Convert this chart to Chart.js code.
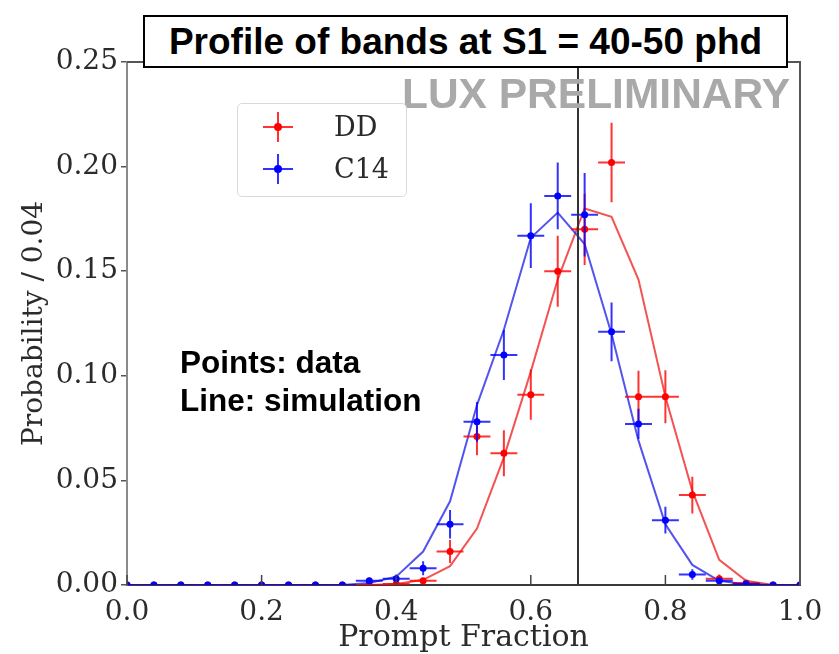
<!DOCTYPE html>
<html>
<head>
<meta charset="utf-8">
<script src="https://cdn.jsdelivr.net/npm/chart.js@4.4.1/dist/chart.umd.min.js"></script>
<style>
  html, body { margin: 0; padding: 0; background: #fff; }
  #wrap { position: relative; width: 839px; height: 654px; overflow: hidden; }
  #c { position: absolute; left: 0; top: 0; }
  .title-box { position: absolute; left: 143px; top: 15px; width: 641px; height: 49px; border: 2px solid #000; background: #fff;
    display: flex; align-items: center; justify-content: center; font: bold 37px "Liberation Sans", Arial, sans-serif; color: #000; z-index: 3; white-space: nowrap; }
  .watermark { position: absolute; right: 49px; top: 73px; font: bold 42.5px/42.5px "Liberation Sans", Arial, sans-serif; color: #a9a9a9; z-index: 2; white-space: nowrap; }
  .note { position: absolute; left: 180px; top: 343px; font: bold 31.5px/38px "Liberation Sans", Arial, sans-serif; color: #000; z-index: 2; white-space: nowrap; }
  .legend { position: absolute; left: 237px; top: 103px; width: 168px; height: 92px; border: 1px solid #d9d9d9; border-radius: 5px;
    background: rgba(255,255,255,0.85); z-index: 2; }
  .leg-item { position: absolute; left: 0; width: 168px; height: 40px; }
  .leg-h { position: absolute; left: 25px; top: 19px; width: 30px; height: 2px; }
  .leg-v { position: absolute; left: 39px; top: 5px; width: 2px; height: 30px; }
  .leg-dot { position: absolute; left: 36px; top: 16px; width: 8px; height: 8px; border-radius: 50%; }
  .leg-text { position: absolute; left: 96px; top: 0; height: 40px; font: 27px/40px "DejaVu Serif", serif; color: #2a2a2a; }
</style>
</head>
<body>
<div id="wrap">
  <canvas id="c" width="839" height="654"></canvas>
  <div class="title-box" id="titleBox"></div>
  <div class="watermark" id="watermark"></div>
  <div class="note" id="note"></div>
  <div class="legend" id="legend"></div>
</div>
<script>
// ---- data ----
const binCenters = [0.00, 0.04, 0.08, 0.12, 0.16, 0.20, 0.24, 0.28, 0.32, 0.36, 0.40, 0.44, 0.48,
                    0.52, 0.56, 0.60, 0.64, 0.68, 0.72, 0.76, 0.80, 0.84, 0.88, 0.92, 0.96, 1.00];
const ddData   = [0, 0, 0, 0, 0, 0, 0, 0, 0, 0, 0.0005, 0.002, 0.016,
                  0.071, 0.063, 0.091, 0.150, 0.170, 0.202, 0.090, 0.090, 0.043, 0.003, 0.001, 0, 0];
const ddErr    = [0, 0, 0, 0, 0, 0, 0, 0, 0, 0, 0.0005, 0.001, 0.0055,
                  0.009, 0.011, 0.012, 0.017, 0.017, 0.019, 0.0124, 0.0127, 0.0088, 0.002, 0.001, 0, 0];
const c14Data  = [0, 0, 0, 0, 0, 0, 0, 0, 0, 0.002, 0.003, 0.008, 0.029,
                  0.078, 0.110, 0.167, 0.186, 0.177, 0.121, 0.077, 0.031, 0.005, 0.002, 0.0005, 0, 0];
const c14Err   = [0, 0, 0, 0, 0, 0, 0, 0, 0, 0.0015, 0.002, 0.0033, 0.0068,
                  0.0095, 0.012, 0.0155, 0.016, 0.020, 0.014, 0.0072, 0.0064, 0.0025, 0.0015, 0.0008, 0, 0];
const ddSim    = [0, 0, 0, 0, 0, 0, 0, 0, 0, 0, 0.0005, 0.0025, 0.009,
                  0.027, 0.061, 0.102, 0.146, 0.180, 0.176, 0.146, 0.090, 0.045, 0.012, 0.002, 0, 0];
const c14Sim   = [0, 0, 0, 0, 0, 0, 0, 0, 0, 0.001, 0.004, 0.016, 0.040,
                  0.086, 0.122, 0.166, 0.178, 0.163, 0.120, 0.069, 0.029, 0.0096, 0.002, 0.0003, 0, 0];
const binHalfWidth = 0.02;
const thresholdX = 0.67;
const seriesNames = ['DD', 'C14'];
const seriesColors = ['#ff0000', '#0000ff'];
const xTickLabels = ['0.0', '0.2', '0.4', '0.6', '0.8', '1.0'];
const yTickLabels = ['0.00', '0.05', '0.10', '0.15', '0.20', '0.25'];
const chartTitle = 'Profile of bands at S1 = 40-50 phd';
const watermarkText = 'LUX PRELIMINARY';
const noteLines = ['Points: data', 'Line: simulation'];
const xTitle = 'Prompt Fraction';
const yTitle = 'Probability / 0.04';

// ---- text overlays ----
document.getElementById('titleBox').textContent = chartTitle;
document.getElementById('watermark').textContent = watermarkText;
document.getElementById('note').innerHTML = noteLines.map(s => '<div>' + s + '</div>').join('');
const legendEl = document.getElementById('legend');
seriesNames.forEach((name, i) => {
  const item = document.createElement('div');
  item.className = 'leg-item';
  item.style.top = (3 + i * 42) + 'px';
  const c = seriesColors[i];
  item.innerHTML = '<div class="leg-h" style="background:' + c + ';opacity:0.8"></div>' +
                   '<div class="leg-v" style="background:' + c + ';opacity:0.8"></div>' +
                   '<div class="leg-dot" style="background:' + c + '"></div>' +
                   '<div class="leg-text">' + name + '</div>';
  legendEl.appendChild(item);
});

const toXY = (ys) => binCenters.map((x, i) => ({ x: x, y: ys[i] }));

// ---- plugins ----
const errorBarPlugin = {
  id: 'errorBars',
  beforeDatasetDraw(chart, args) {
    const ds = chart.data.datasets[args.index];
    if (!ds.errY) return;
    const { ctx, chartArea, scales: { x, y } } = chart;
    ctx.save();
    ctx.beginPath();
    ctx.rect(chartArea.left, chartArea.top - 2, chartArea.width, chartArea.height + 2);
    ctx.clip();
    ctx.strokeStyle = ds.errColor;
    ctx.lineWidth = 2;
    ds.data.forEach((p, i) => {
      const e = ds.errY[i];
      const px = x.getPixelForValue(p.x);
      const py = y.getPixelForValue(p.y);
      ctx.beginPath();
      ctx.moveTo(x.getPixelForValue(p.x - binHalfWidth), py);
      ctx.lineTo(x.getPixelForValue(p.x + binHalfWidth), py);
      if (e > 0) {
        ctx.moveTo(px, y.getPixelForValue(p.y - e));
        ctx.lineTo(px, y.getPixelForValue(p.y + e));
      }
      ctx.stroke();
    });
    ctx.restore();
  }
};

const framePlugin = {
  id: 'frame',
  afterDatasetsDraw(chart) {
    const { ctx, chartArea: a, scales: { x } } = chart;
    ctx.save();
    // vertical threshold line
    const vx = Math.round(x.getPixelForValue(thresholdX));
    ctx.strokeStyle = '#333';
    ctx.lineWidth = 2;
    ctx.beginPath();
    ctx.moveTo(vx, a.bottom);
    ctx.lineTo(vx, a.top);
    ctx.stroke();
    // inward x ticks
    ctx.strokeStyle = '#444';
    ctx.lineWidth = 1.5;
    x.ticks.forEach(t => {
      const tx = x.getPixelForValue(t.value);
      ctx.beginPath();
      ctx.moveTo(tx, a.bottom);
      ctx.lineTo(tx, a.bottom - 10);
      ctx.stroke();
    });
    // top and right spines
    ctx.strokeStyle = '#555';
    ctx.lineWidth = 2;
    ctx.beginPath();
    ctx.moveTo(a.left, a.top);
    ctx.lineTo(a.right, a.top);
    ctx.lineTo(a.right, a.bottom);
    ctx.stroke();
    ctx.restore();
  }
};

const serif = 'DejaVu Serif';
new Chart(document.getElementById('c'), {
  type: 'scatter',
  data: {
    datasets: [
      { label: seriesNames[1], data: toXY(c14Data), errY: c14Err, errColor: 'rgba(0,0,255,0.8)',
        showLine: false, pointRadius: 3.5, pointBackgroundColor: seriesColors[1], pointBorderWidth: 0, order: 0 },
      { label: seriesNames[0], data: toXY(ddData), errY: ddErr, errColor: 'rgba(255,0,0,0.8)',
        showLine: false, pointRadius: 3.5, pointBackgroundColor: seriesColors[0], pointBorderWidth: 0, order: 1 },
      { label: seriesNames[1] + ' sim', data: toXY(c14Sim), showLine: true, borderColor: 'rgba(40,40,235,0.8)',
        borderWidth: 2, pointRadius: 0, tension: 0, order: 2 },
      { label: seriesNames[0] + ' sim', data: toXY(ddSim), showLine: true, borderColor: 'rgba(240,40,40,0.8)',
        borderWidth: 2, pointRadius: 0, tension: 0, order: 3 }
    ]
  },
  options: {
    responsive: false,
    animation: false,
    devicePixelRatio: 1,
    layout: { padding: { top: 62, right: 39, left: 0, bottom: 0 } },
    plugins: { legend: { display: false }, tooltip: { enabled: false } },
    scales: {
      x: {
        type: 'linear', min: 0, max: 1,
        afterFit: s => { s.height = 69; },
        ticks: { stepSize: 0.2, padding: 3, color: '#2b2b2b', font: { family: serif, size: 28 },
                 callback: (v) => { const i = Math.round(v / 0.2); return xTickLabels[i]; } },
        grid: { display: false },
        border: { display: true, color: '#3a3a3a', width: 2 },
        title: { display: true, text: xTitle, color: '#2b2b2b', font: { family: serif, size: 30, lineHeight: 1.05 }, padding: { top: 0, bottom: 0 } }
      },
      y: {
        type: 'linear', min: 0, max: 0.25,
        afterFit: s => { s.width = 127; },
        ticks: { stepSize: 0.05, padding: 3, color: '#2b2b2b', font: { family: serif, size: 28 },
                 callback: (v) => { const i = Math.round(v / 0.05); return yTickLabels[i]; } },
        grid: { display: true, drawOnChartArea: false, drawTicks: true, tickLength: 6, color: '#555', lineWidth: 1.5 },
        border: { display: true, color: '#8a8a8a', width: 2 },
        title: { display: true, text: yTitle, color: '#2b2b2b', font: { family: serif, size: 28 }, padding: { top: 18, bottom: 0 } }
      }
    }
  },
  plugins: [errorBarPlugin, framePlugin]
});
</script>
</body>
</html>
